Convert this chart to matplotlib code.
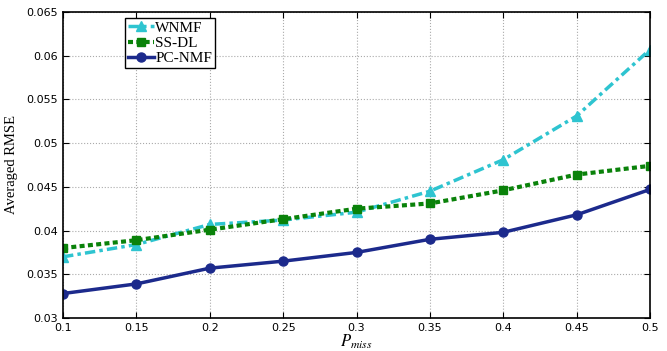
"""
Averaged RMSE vs. missing probability.
"""

import matplotlib
matplotlib.use('Agg')
import matplotlib.pyplot as plt

p_miss = [0.1, 0.15, 0.2, 0.25, 0.3, 0.35, 0.4, 0.45, 0.5]
wnmf = [0.0370, 0.0384, 0.0407, 0.0412, 0.0421, 0.0445, 0.0481, 0.0531, 0.0607]
ss_dl = [0.0380, 0.0389, 0.0401, 0.0413, 0.0425, 0.0431, 0.0446, 0.0464, 0.0474]
pc_nmf = [0.0328, 0.0339, 0.0357, 0.0365, 0.0375, 0.0390, 0.0398, 0.0418, 0.0447]
x_ticks = [0.1, 0.15, 0.2, 0.25, 0.3, 0.35, 0.4, 0.45, 0.5]
y_ticks = [0.03, 0.035, 0.04, 0.045, 0.05, 0.055, 0.06, 0.065]

plt.rcParams['mathtext.fontset'] = 'stix'

fig = plt.figure(figsize=(6.67, 3.51), dpi=100)
ax = fig.add_axes([0.0945, 0.094, 0.88, 0.872])

ax.plot(p_miss, wnmf, color='#2ec4d0', linestyle=(0, (3, 1.2, 1, 1.2)), linewidth=2.5,
        marker='^', markersize=7, label='WNMF')
ax.plot(p_miss, ss_dl, color='#0a820a', linestyle=(0, (1.2, 0.8)), linewidth=3,
        marker='s', markersize=6, label='SS-DL')
ax.plot(p_miss, pc_nmf, color='#1c2a8c', linestyle='-', linewidth=2.5,
        marker='o', markersize=6.5, label='PC-NMF')

ax.set_xlim(0.1, 0.5)
ax.set_ylim(0.03, 0.065)
ax.set_xticks(x_ticks)
ax.set_xticklabels([f'{t:g}' for t in x_ticks])
ax.set_yticks(y_ticks)
ax.set_yticklabels([f'{t:g}' for t in y_ticks])
ax.tick_params(direction='in', top=True, right=True, labelsize=8, length=4)
ax.grid(True, linestyle=':', color='#aaaaaa', linewidth=0.8)
for s in ax.spines.values():
    s.set_linewidth(1.2)

ax.set_xlabel('$P_{miss}$', fontsize=12, labelpad=0)
ax.set_ylabel('Averaged RMSE', fontsize=10.5, family='Liberation Serif', labelpad=6)

leg = ax.legend(loc='upper left', bbox_to_anchor=(0.1, 0.99),
                prop={'family': 'Liberation Serif', 'size': 11},
                fancybox=False, edgecolor='black', framealpha=1,
                borderpad=0.2, labelspacing=0.1, handlelength=1.7,
                handletextpad=0.1, borderaxespad=0.2)
leg.get_frame().set_linewidth(1.0)

plt.savefig('out.png', dpi=100)
plt.close()
